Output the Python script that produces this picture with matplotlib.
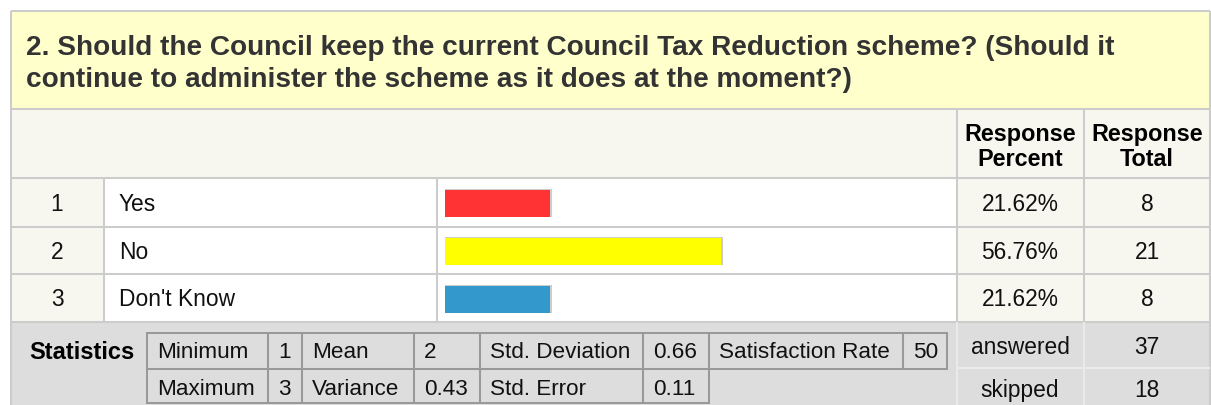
import matplotlib.pyplot as plt
from matplotlib.patches import Rectangle

plt.rcParams['font.family'] = ['Liberation Sans', 'DejaVu Sans']

# survey data
question_lines = ["2. Should the Council keep the current Council Tax Reduction scheme? (Should it",
                  "continue to administer the scheme as it does at the moment?)"]
answers = ["Yes", "No", "Don't Know"]
percents = [21.62, 56.76, 21.62]
totals = [8, 21, 8]
bar_colors = ["#FF3333", "#FFFF00", "#3399CC"]
stat_row1 = [("Minimum", "1"), ("Mean", "2"), ("Std. Deviation", "0.66"), ("Satisfaction Rate", "50")]
stat_row2 = [("Maximum", "3"), ("Variance", "0.43"), ("Std. Error", "0.11")]
answered = 37
skipped = 18

W, H = 1211, 405
fig = plt.figure(figsize=(W / 100, H / 100), dpi=100)
ax = fig.add_axes([0, 0, 1, 1])
ax.set_xlim(0, W)
ax.set_ylim(H, 0)
ax.axis("off")

LIGHT = "#CCCCCC"
LW = 1.45  # ~2px
FS = 16.4
TXT = "#111111"


def box(x0, y0, x1, y1, fc, ec=None, lw=LW, z=1):
    ax.add_patch(Rectangle((x0, y0), x1 - x0, y1 - y0, facecolor=fc,
                           edgecolor=ec if ec else "none", linewidth=lw, zorder=z))


def hline(y, x0, x1, c=LIGHT, z=3):
    ax.plot([x0, x1], [y, y], color=c, lw=LW, zorder=z, solid_capstyle="butt")


def vline(x, y0, y1, c=LIGHT, z=3):
    ax.plot([x, x], [y0, y1], color=c, lw=LW, zorder=z, solid_capstyle="butt")


# backgrounds
box(11, 11, 1210, 109, "#FFFFCC")
box(11, 109, 1210, 178, "#F7F7EF")
row_edges = [178, 227, 274, 322]
for i in range(3):
    box(11, row_edges[i], 104, row_edges[i + 1], "#F7F7EF")
    box(104, row_edges[i], 957, row_edges[i + 1], "white")
    box(957, row_edges[i], 1210, row_edges[i + 1], "#F7F7EF")
box(11, 322, 1210, 405, "#DDDDDD")

# grid lines
hline(11, 11, 1210)
for y in [109, 178, 227, 274, 322]:
    hline(y, 11, 1210)
vline(11, 11, 405)
vline(1210, 11, 405)
vline(104, 178, 322)
vline(437, 178, 322)
vline(957, 109, 322)
vline(1084, 109, 322)
hline(368, 957, 1210, c="#EAEAEA")
vline(957, 322, 405, c="#EAEAEA")
vline(1084, 322, 405, c="#EAEAEA")

# title
ax.text(26, 55, question_lines[0], fontsize=20.2, fontweight="bold", color="#333333", va="baseline")
ax.text(26, 87, question_lines[1], fontsize=20.2, fontweight="bold", color="#333333", va="baseline")

# header
for cx, second in [(1020, "Percent"), (1147, "Total")]:
    ax.text(cx, 141, "Response", fontsize=16.8, fontweight="bold", ha="center", va="baseline")
    ax.text(cx, 166, second, fontsize=16.8, fontweight="bold", ha="center", va="baseline")

# rows
for i, (a, p, t) in enumerate(zip(answers, percents, totals)):
    yb = (row_edges[i] + row_edges[i + 1]) / 2 + 8.5
    ax.text(57, yb, str(i + 1), fontsize=FS, ha="center", va="baseline", color=TXT)
    ax.text(119, yb, a, fontsize=FS, va="baseline", color=TXT)
    ax.text(1020, yb, f"{p:.2f}%", fontsize=FS, ha="center", va="baseline", color=TXT)
    ax.text(1147, yb, str(t), fontsize=FS, ha="center", va="baseline", color=TXT)

# bars in their own axes: 100% = 487 px
BAR_W = 487
bax = fig.add_axes([445 / W, 1 - 322 / H, BAR_W / W, 144 / H])
bax.set_xlim(0, 100)
bax.set_ylim(3, 0)
bax.axis("off")
px_x = 100 / BAR_W
px_y = 3 / 144
ypos = [i + 0.5 + 1.5 * px_y for i in range(3)]
bh = 27 * px_y
bax.barh([y - 0.5 * px_y for y in ypos], [p + 2 * px_x for p in percents],
         height=bh + px_y, color="#CCCCCC", left=0)
bax.barh(ypos, percents, height=bh, color=bar_colors, left=0)

# statistics
ax.text(135, 359, "Statistics", fontsize=17, fontweight="bold", ha="right", va="baseline")
col_x = [147, 268, 302, 414, 480, 643, 709, 903, 947]
DARK = "#999999"
r1 = (333, 369)
r2 = (369, 403)
for k in range(8):
    box(col_x[k], r1[0], col_x[k + 1], r1[1], "none", DARK, z=4)
for k in range(6):
    box(col_x[k], r2[0], col_x[k + 1], r2[1], "none", DARK, z=4)
for k, (lab, val) in enumerate(stat_row1):
    ax.text(col_x[2 * k] + 10, 358, lab, fontsize=16.2, va="baseline", color=TXT)
    ax.text(col_x[2 * k + 1] + 10, 358, val, fontsize=16.2, va="baseline", color=TXT)
for k, (lab, val) in enumerate(stat_row2):
    ax.text(col_x[2 * k] + 10, 395, lab, fontsize=16.2, va="baseline", color=TXT)
    ax.text(col_x[2 * k + 1] + 10, 395, val, fontsize=16.2, va="baseline", color=TXT)

ax.text(1020, 354, "answered", fontsize=FS, ha="center", va="baseline", color=TXT)
ax.text(1147, 354, str(answered), fontsize=FS, ha="center", va="baseline", color=TXT)
ax.text(1020, 397, "skipped", fontsize=FS, ha="center", va="baseline", color=TXT)
ax.text(1147, 397, str(skipped), fontsize=FS, ha="center", va="baseline", color=TXT)

fig.savefig("out.png", dpi=100)
